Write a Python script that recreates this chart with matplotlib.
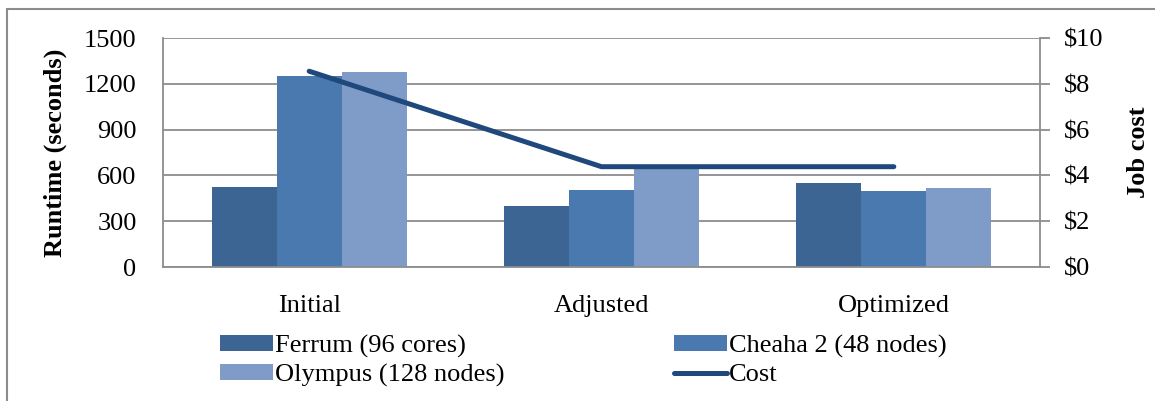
import numpy as np
import matplotlib as mpl
mpl.use('Agg')
import matplotlib.pyplot as plt
from matplotlib.patches import Rectangle
from matplotlib.ticker import FuncFormatter

plt.rcParams["font.family"] = ["Liberation Serif", "DejaVu Serif"]

# Runtimes per stage and cluster (seconds), job cost in dollars
stages = ["Initial", "Adjusted", "Optimized"]
ferrum = [525, 400, 550]
cheaha = [1250, 505, 500]
olympus = [1280, 640, 515]
cost = [8.55, 4.38, 4.38]

series_names = ["Ferrum (96 cores)", "Cheaha 2 (48 nodes)", "Olympus (128 nodes)"]
colors = ["#3d6594", "#4a79b0", "#7f9cc8"]
line_color = "#1f487c"
grid_color = "#8c8c8c"

fontsize = 19

fig = plt.figure(figsize=(11.55, 4.01), dpi=100)
ax = fig.add_axes([163/1155, 1 - 267/401, (1040-163)/1155, (267-38)/401])

x = np.arange(len(stages))
width = 0.222
bars = []
for i, (vals, name, c) in enumerate(zip([ferrum, cheaha, olympus], series_names, colors)):
    b = ax.bar(x + (i - 1) * width, vals, width, color=c, label=name, zorder=2)
    bars.append(b)

ax.set_xlim(-0.5, 2.5)
ax.set_ylim(0, 1500)
ax.set_yticks(np.arange(0, 1501, 300))
ax.yaxis.grid(True, color=grid_color, lw=1.3, zorder=0)
ax.set_axisbelow(True)
ax.set_xticks(x)
ax.set_xticklabels(stages, fontsize=fontsize)
ax.tick_params(axis='x', length=0, pad=20)
ax.tick_params(axis='y', length=0, pad=19, labelsize=fontsize)
ax.set_ylabel("Runtime (seconds)", fontsize=fontsize, fontweight='bold', labelpad=12)
for s in ['top', 'right']:
    ax.spines[s].set_visible(False)
for s in ['left', 'bottom']:
    ax.spines[s].set_color(grid_color)
    ax.spines[s].set_linewidth(1.3)

# Cost on the secondary axis
ax2 = ax.twinx()
ax2.set_ylim(0, 10)
ax2.set_yticks(np.arange(0, 11, 2))
ax2.yaxis.set_major_formatter(FuncFormatter(lambda v, p: "${:d}".format(int(v))))
ax2.tick_params(axis='y', direction='out', length=7, width=1.3, color=grid_color,
                pad=10, labelsize=fontsize)
line, = ax2.plot(x, cost, color=line_color, lw=3.6, solid_capstyle='round', label="Cost", zorder=3)
ax2.set_ylabel("Job cost", fontsize=fontsize, fontweight='bold', labelpad=17)
for s in ['top', 'left', 'bottom']:
    ax2.spines[s].set_visible(False)
ax2.spines['right'].set_color(grid_color)
ax2.spines['right'].set_linewidth(1.3)

# Legend below the plot, two columns
handles = [bars[0], bars[2], bars[1], line]
labels = [series_names[0], series_names[2], series_names[1], "Cost"]
fig.legend(handles, labels, loc='upper left', bbox_to_anchor=(220/1155, 1 - 335/401),
           ncol=2, frameon=False, fontsize=fontsize, handlelength=2.0, handleheight=0.55,
           handletextpad=0.1, columnspacing=6.4, labelspacing=0.22, borderaxespad=0,
           borderpad=0)

# Outer chart border
fig.patches.append(Rectangle((7/1155, -0.1), 1.2, 1 - 9/401 + 0.1, transform=fig.transFigure,
                             fill=False, edgecolor=grid_color, lw=1.5))

plt.savefig('out.png', dpi=100)
